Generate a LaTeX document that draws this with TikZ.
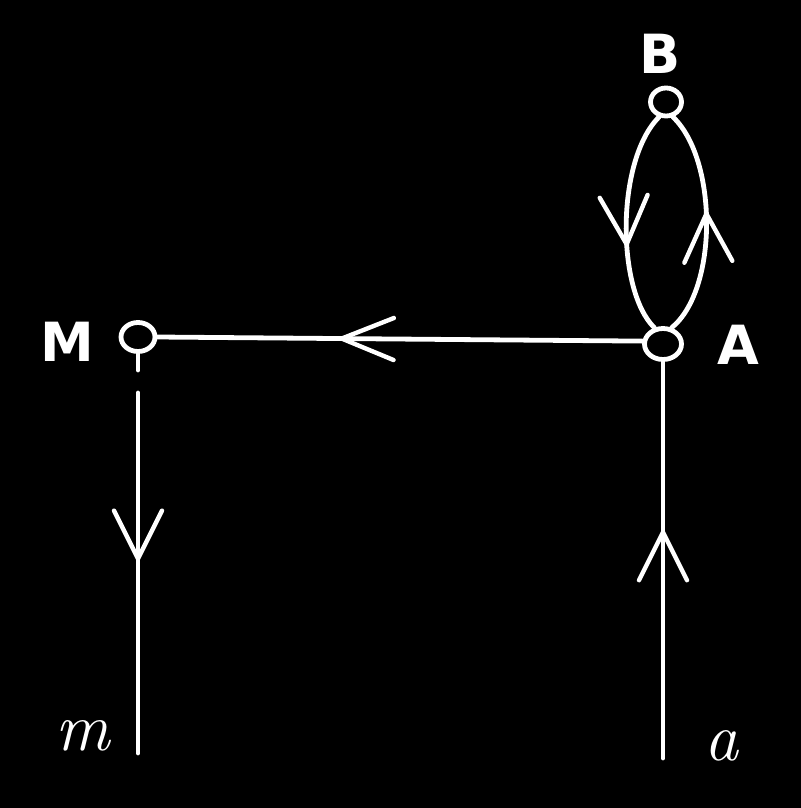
\documentclass[tikz,border=0pt]{standalone}
\usepackage{fontspec}
\newfontfamily\labfont{DejaVu Sans}
\usetikzlibrary{shapes.geometric,decorations.markings}
\tikzset{
  wire/.style={draw=white, line width=2.4pt, line cap=round},
  knot/.style={ellipse, draw=white, line width=2.4pt, inner sep=0pt},
  caplabel/.style={text=white, font=\labfont\bfseries\fontsize{27}{32}\selectfont, inner sep=0pt},
  itlabel/.style={text=white, font=\itshape\fontsize{34}{40}\selectfont, inner sep=0pt},
  chev/.style={postaction={decorate, decoration={markings,
     mark=at position #1 with {\draw[white, line width=2.2pt, line cap=round, line join=miter] (-48,24) -- (0,0) -- (-48,-24);}}}},
  chevlong/.style={postaction={decorate, decoration={markings,
     mark=at position #1 with {\draw[white, line width=2.2pt, line cap=round, line join=miter] (-52,21) -- (0,0) -- (-52,-21);}}}}
}
\begin{document}
\begin{tikzpicture}[x=0.5pt,y=-0.5pt]
\fill[black] (0,0) rectangle (801,808);
\useasboundingbox (0,0) rectangle (801,808);
% nodes
\node[knot, minimum width=15.5pt, minimum height=14pt] (B) at (666,102) {};
\node[knot, minimum width=18.5pt, minimum height=15.5pt] (A) at (663,344) {};
\node[knot, minimum width=17pt, minimum height=14.5pt] (M) at (138,337) {};
\node[caplabel] (Bl) at (660,54) {B};
\node[caplabel] (Al) at (738,345) {A};
\node[caplabel] (Ml) at (67,342) {M};
\node[itlabel] (ml) at (83,736) {m};
\node[itlabel] (al) at (721,746) {a};
\coordinate (Mtail) at (138,370);
\coordinate (Mtop) at (138,393);
\coordinate (mend) at (138,753);
\coordinate (aend) at (663,758);
% connectors
\draw[wire, chevlong=0.62] (A.172) -- (M.east);
\draw[wire] (M.south) -- (Mtail);
\draw[wire, chev=0.46] (Mtop) -- (mend);
\draw[wire, chev=0.57] (aend) -- (A.south);
\draw[wire, chev=0.6] (B.245) .. controls (616,160) and (616,290) .. (A.118);
\draw[wire, chev=0.54] (A.62) .. controls (718,290) and (718,160) .. (B.295);
\end{tikzpicture}
\end{document}
